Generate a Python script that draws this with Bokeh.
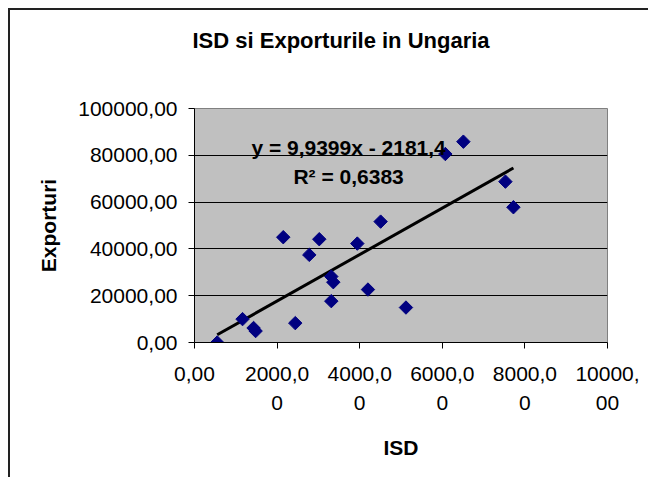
from bokeh.plotting import figure
from bokeh.models import Range1d, FixedTicker, Label, Title
from bokeh.embed import file_html
from bokeh.resources import INLINE
import numpy as np

# ---- data ----
isd = [550, 1163, 1430, 1480, 2149, 2440, 2779, 3021, 3312, 3361, 3312,
       3942, 4200, 4507, 5120, 6074, 6510, 7528, 7722]
exporturi = [0, 9990, 6200, 4900, 45000, 8280, 37440, 44140, 28180, 25780,
             17670, 42270, 22630, 51660, 14940, 80550, 85820, 68740, 57800]
trend_slope = 9.9399
trend_intercept = -2181.4
r_squared = "0,6383"
x_ticks = [0, 2000, 4000, 6000, 8000, 10000]
x_tick_labels = ["0,00", "2000,0\n0", "4000,0\n0", "6000,0\n0", "8000,0\n0", "10000,\n00"]
y_ticks = [0, 20000, 40000, 60000, 80000, 100000]
y_tick_labels = ["0,00", "20000,00", "40000,00", "60000,00", "80000,00", "100000,00"]

FONT = "Liberation Sans"

p = figure(frame_width=413, frame_height=234,
           x_range=Range1d(0, 10000), y_range=Range1d(0, 100000),
           output_backend="svg", toolbar_location=None,
           min_border_left=184, min_border_top=98,
           min_border_right=41, min_border_bottom=135)
p.styles = {"margin-left": "8px", "margin-top": "8px",
            "border-left": "2px solid #222", "border-top": "2px solid #222"}

p.background_fill_color = "#C0C0C0"
p.border_fill_color = "white"
p.outline_line_color = "#808080"
p.outline_line_width = 1

# spacer between the title and the plot area
p.add_layout(Title(text=" ", text_font_size="10px", standoff=38), "above")

# title
p.title.text = "ISD si Exporturile in Ungaria"
p.title.text_font = FONT
p.title.text_font_size = "22px"
p.title.text_font_style = "bold"
p.title.text_color = "black"
p.title.align = "left"
p.title.offset = -2
p.title.standoff = 10

# axes
for ax in (p.xaxis[0], p.yaxis[0]):
    ax.axis_line_color = "black"
    ax.major_tick_line_color = "black"
    ax.major_tick_out = 6
    ax.major_tick_in = 0
    ax.minor_tick_line_color = None
    ax.major_label_text_font = FONT
    ax.major_label_text_font_size = "21px"
    ax.major_label_text_color = "black"
    ax.axis_label_text_font = FONT
    ax.axis_label_text_font_size = "21px"
    ax.axis_label_text_font_style = "bold"
    ax.axis_label_text_color = "black"

p.xaxis.ticker = FixedTicker(ticks=x_ticks)
p.xaxis.major_label_overrides = dict(zip(x_ticks, x_tick_labels))
p.xaxis.major_label_text_line_height = 1.3
p.xaxis.major_label_standoff = 13
p.xaxis.axis_label = "ISD"
p.xaxis.axis_label_standoff = 19

p.yaxis.ticker = FixedTicker(ticks=y_ticks)
p.yaxis.major_label_overrides = dict(zip(y_ticks, y_tick_labels))
p.yaxis.major_label_standoff = 11
p.yaxis.axis_label = "Exporturi"
p.yaxis.axis_label_standoff = 15

# grid
p.xgrid.grid_line_color = None
p.ygrid.ticker = FixedTicker(ticks=y_ticks[1:-1])
p.ygrid.grid_line_color = "black"
p.ygrid.grid_line_width = 1

# trendline
xs = np.array([min(isd), max(isd)], dtype=float)
ys = trend_slope * xs + trend_intercept
p.line(xs, ys, line_color="black", line_width=3)

# points
p.scatter(isd, exporturi, marker="square", size=9.5, angle=np.pi / 4,
          fill_color="#000080", line_color="#000080")

# equation labels
eq_text = "y = " + f"{trend_slope}".replace(".", ",") + "x - " + f"{-trend_intercept}".replace(".", ",")
p.add_layout(Label(x=3731, y=83540, text=eq_text, text_align="center",
                   text_baseline="middle", text_font=FONT, text_font_size="21px",
                   text_font_style="bold", text_color="black"))
p.add_layout(Label(x=3731, y=70740, text="R² = " + r_squared, text_align="center",
                   text_baseline="middle", text_font=FONT, text_font_size="21px",
                   text_font_style="bold", text_color="black"))

open("out.html", "w").write(file_html(p, INLINE))
